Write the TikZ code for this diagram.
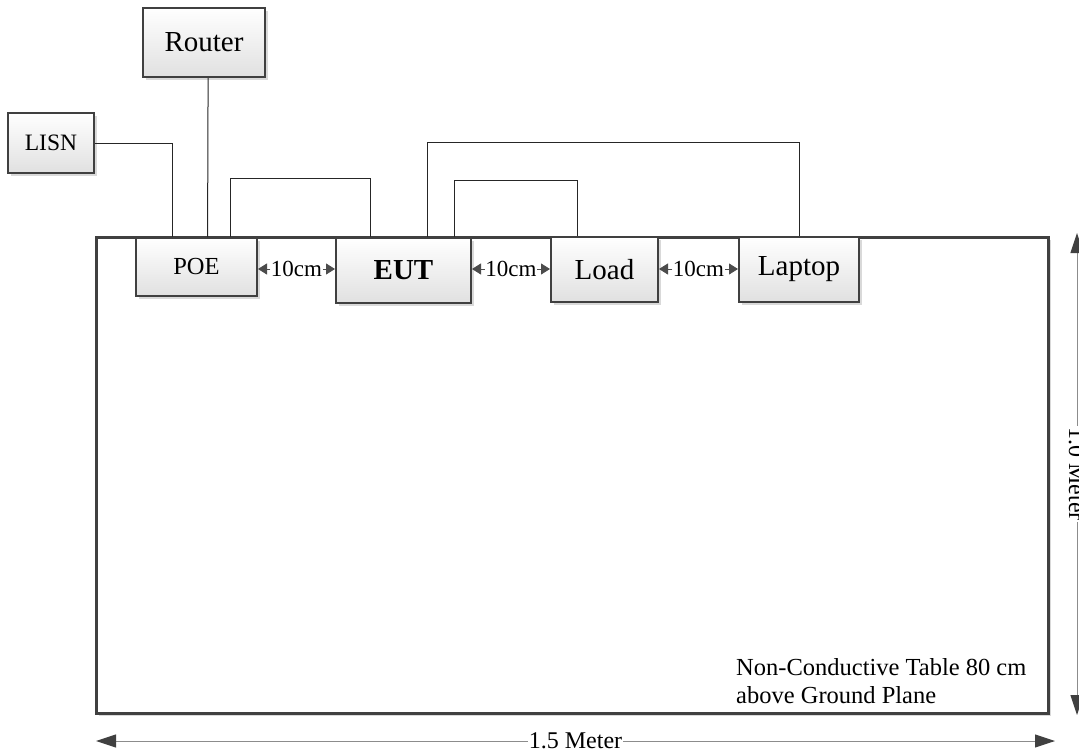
\documentclass[tikz,border=0pt]{standalone}
\usepackage{fontspec}
\setmainfont{Liberation Serif}
\usetikzlibrary{arrows.meta,shadows,calc}
\tikzset{
  devbox/.style={draw=black!75, line width=2pt, top color=white, bottom color=black!12,
    inner sep=0pt, anchor=center,
    drop shadow={shadow xshift=3pt, shadow yshift=-3pt, fill=black!15, opacity=1}},
  tablebox/.style={draw=black!75, line width=3pt, fill=white, inner sep=0pt,
    drop shadow={shadow xshift=3pt, shadow yshift=-3pt, fill=black!15, opacity=1}},
  wire/.style={draw=black!85, line width=1pt},
  gaparrow/.style={draw=black!70, line width=0.8pt, -{Triangle[length=9pt,width=11pt,color=black!70]}},
  dimline/.style={draw=black!45, line width=1pt,
    {Triangle[length=20pt,width=13pt,color=black!75]}-{Triangle[length=20pt,width=13pt,color=black!75]}},
  gaplabel/.style={font=\fontsize{23}{26}\selectfont, inner sep=0.5pt, fill=white},
}
\begin{document}
\begin{tikzpicture}[x=1pt,y=-1pt]
\useasboundingbox (0,0) rectangle (1079,755);

% table
\node[tablebox, minimum width=952pt, minimum height=476pt] (table) at (572,475) {};

% devices
\node[devbox, minimum width=122pt, minimum height=69pt, font=\fontsize{29}{32}\selectfont] (router) at (204,42.5) {Router};
\node[devbox, minimum width=86pt, minimum height=60pt, font=\fontsize{23.5}{26}\selectfont] (lisn) at (51,143) {LISN};
\node[devbox, minimum width=121pt, minimum height=58pt, font=\fontsize{24.5}{26}\selectfont] (poe) at (196.5,267) {POE};
\node[devbox, minimum width=135pt, minimum height=65pt, font=\fontsize{29}{32}\selectfont\bfseries] (eut) at (403.5,270.5) {EUT};
\node[devbox, minimum width=107pt, minimum height=65pt, font=\fontsize{29}{32}\selectfont] (load) at (604.5,269.5) {Load};
\node[devbox, minimum width=120pt, minimum height=65pt, font=\fontsize{29}{32}\selectfont] (laptop) at (799,269.5) {Laptop};

% wires
\draw[wire] (lisn.east) -| ($(poe.north west)!0.306!(poe.north east)$);
\draw[wire] ($(router.south west)!0.533!(router.south east)$) -- ($(poe.north west)!0.59!(poe.north east)$);
\draw[wire] ($(poe.north west)!0.777!(poe.north east)$) -- ++(0,-59) -| ($(eut.north west)!0.259!(eut.north east)$);
\draw[wire] ($(eut.north west)!0.674!(eut.north east)$) -- ++(0,-95) -| (laptop.north);
\draw[wire] ($(eut.north west)!0.874!(eut.north east)$) -- ++(0,-57) -| ($(load.north west)!0.252!(load.north east)$);

% 10cm gaps
\path (poe.east |- 0,269) -- node[gaplabel] (g1) {10cm} (eut.west |- 0,269);
\draw[gaparrow] (g1.west) -- (poe.east |- g1.west);
\draw[gaparrow] (g1.east) -- (eut.west |- g1.east);
\path (eut.east |- 0,269) -- node[gaplabel] (g2) {10cm} (load.west |- 0,269);
\draw[gaparrow] (g2.west) -- (eut.east |- g2.west);
\draw[gaparrow] (g2.east) -- (load.west |- g2.east);
\path (load.east |- 0,269) -- node[gaplabel] (g3) {10cm} (laptop.west |- 0,269);
\draw[gaparrow] (g3.west) -- (load.east |- g3.west);
\draw[gaparrow] (g3.east) -- (laptop.west |- g3.east);

% table note
\node[anchor=west, align=left, inner sep=0pt, font=\fontsize{24.5}{28}\selectfont] (note) at (736,681)
  {Non-Conductive Table 80 cm\\above Ground Plane};

% dimensions
\coordinate (hl) at (96,741);
\coordinate (hr) at (1055,741);
\draw[dimline] (hl) -- node[fill=white, inner sep=1pt, font=\fontsize{24}{26}\selectfont] (hlab) {1.5 Meter} (hr);
\coordinate (vt) at (1077,233);
\coordinate (vb) at (1077,715);
\draw[dimline] (vt) -- node[fill=white, inner sep=1pt, rotate=-90, font=\fontsize{24}{26}\selectfont] (vlab) {1.0 Meter} (vb);
\end{tikzpicture}
\end{document}
